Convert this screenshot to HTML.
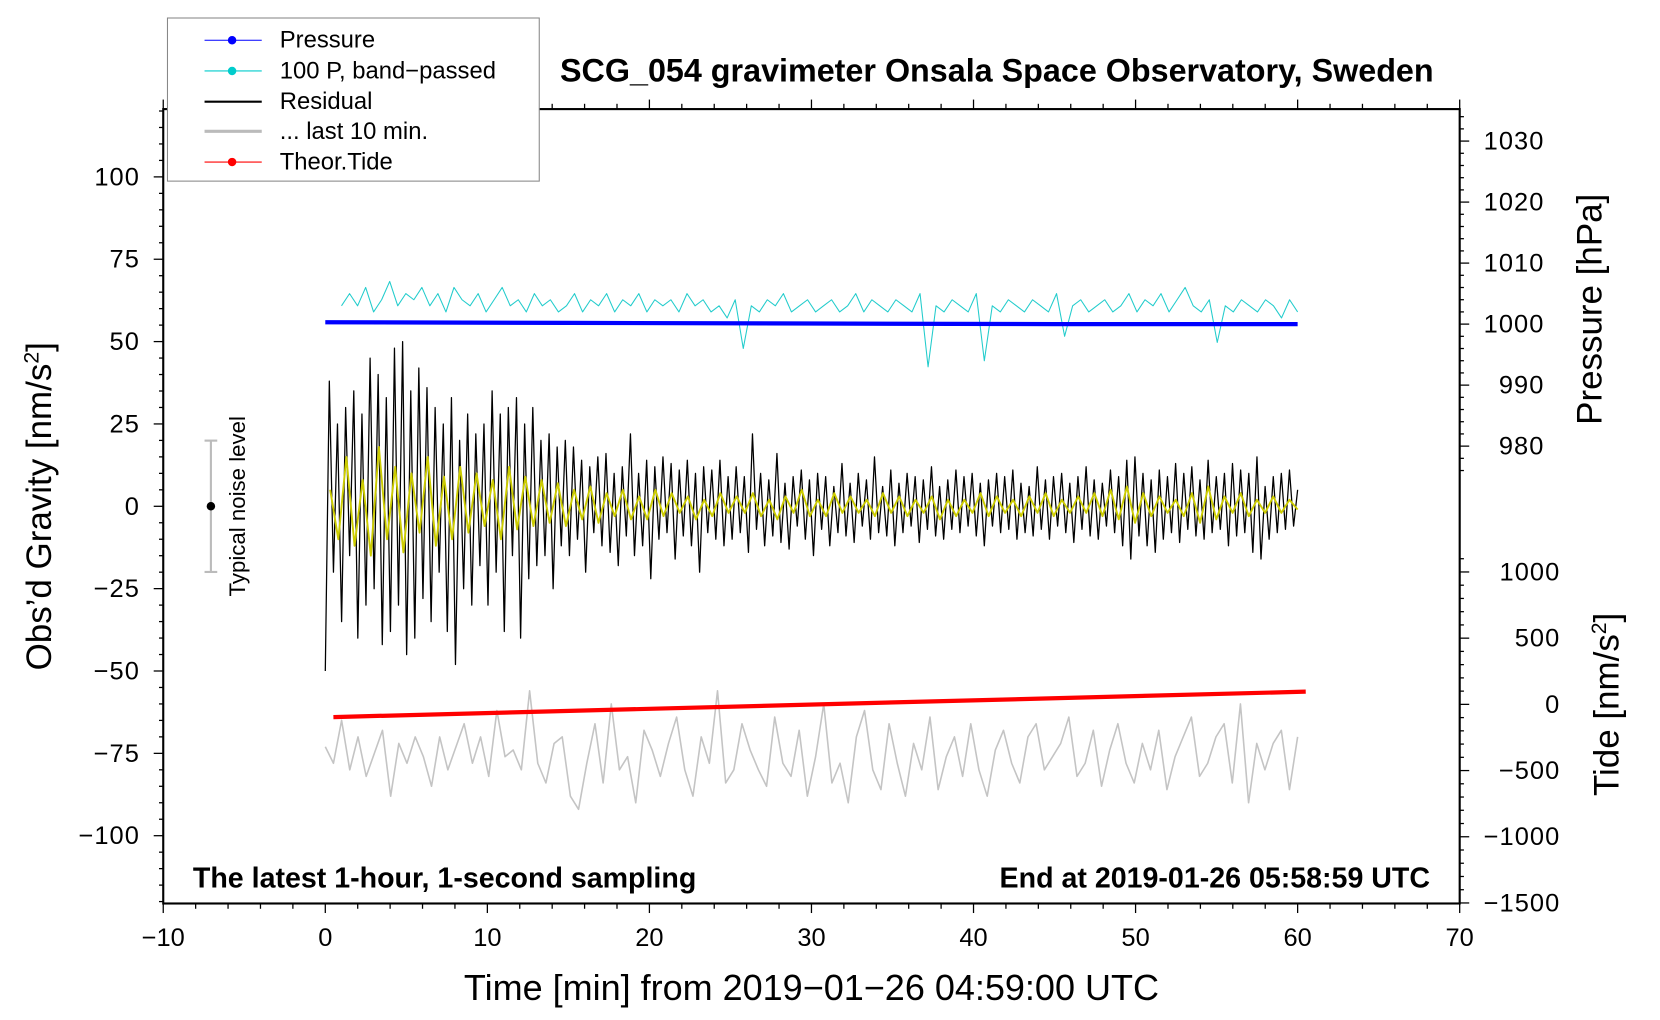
<!DOCTYPE html>
<html><head><meta charset="utf-8"><style>
html,body{margin:0;padding:0;background:#fff;}
svg{display:block;font-family:"Liberation Sans",sans-serif;}
</style></head><body>
<svg id="chart" width="1660" height="1020" viewBox="0 0 1567 963" xmlns="http://www.w3.org/2000/svg">
<rect x="0" y="0" width="1567" height="963" fill="#fff"/>
<g id="marks"></g>
<g id="axes"></g>
<text x="941" y="77" font-size="30.5" font-weight="bold" text-anchor="middle">SCG_054 gravimeter Onsala Space Observatory, Sweden</text>
<text x="182" y="838" font-size="27" font-weight="bold">The latest 1-hour, 1-second sampling</text>
<text x="1350" y="838" font-size="27" font-weight="bold" text-anchor="end">End at 2019-01-26 05:58:59 UTC</text>
<text x="766" y="944" font-size="34" text-anchor="middle">Time [min] from 2019−01−26 04:59:00 UTC</text>
<text transform="translate(48,478) rotate(-90)" font-size="33" text-anchor="middle">Obs’d Gravity [nm/s<tspan font-size="20" dy="-12">2</tspan><tspan dy="12">]</tspan></text>
<text transform="translate(1512,292) rotate(-90)" font-size="33" text-anchor="middle">Pressure [hPa]</text>
<text transform="translate(1528,665) rotate(-90)" font-size="33" text-anchor="middle">Tide [nm/s<tspan font-size="20" dy="-12">2</tspan><tspan dy="12">]</tspan></text>
<g>
<line x1="199" y1="416" x2="199" y2="540" stroke="#bbb" stroke-width="2"/>
<line x1="193" y1="416" x2="205" y2="416" stroke="#bbb" stroke-width="2"/>
<line x1="193" y1="540" x2="205" y2="540" stroke="#bbb" stroke-width="2"/>
<circle cx="199" cy="478" r="4" fill="#000"/>
<text transform="translate(231,478) rotate(-90)" font-size="21" text-anchor="middle">Typical noise level</text>
</g>
<g>
<rect x="158" y="17" width="351" height="154" fill="#fff" stroke="#888" stroke-width="1"/>
<g><line x1="193" y1="38" x2="247" y2="38" stroke="#00f" stroke-width="1"/><circle cx="219" cy="38" r="4" fill="#00f"/><text x="264" y="45" font-size="22.5">Pressure</text></g>
<g><line x1="193" y1="67" x2="247" y2="67" stroke="#0cc" stroke-width="1"/><circle cx="219" cy="67" r="4" fill="#0cc"/><text x="264" y="74" font-size="22.5">100 P, band−passed</text></g>
<g><line x1="193" y1="96" x2="247" y2="96" stroke="#000" stroke-width="2"/><text x="264" y="103" font-size="22.5">Residual</text></g>
<g><line x1="193" y1="124" x2="247" y2="124" stroke="#bbb" stroke-width="3"/><text x="264" y="131" font-size="22.5">... last 10 min.</text></g>
<g><line x1="193" y1="153" x2="247" y2="153" stroke="#f00" stroke-width="1"/><circle cx="219" cy="153" r="4" fill="#f00"/><text x="264" y="160" font-size="22.5">Theor.Tide</text></g>
</g>
</svg>
<script>
const residual=[-50,38,-20,25,-35,30,-15,35,-40,28,-30,45,-25,40,-42,33,-38,48,-30,50,-45,35,-40,42,-28,36,-35,30,-20,25,-38,33,-48,20,-25,28,-30,22,-18,25,
-30,35,-20,28,-38,30,-15,33,-40,25,-22,30,-18,20,-15,22,-25,18,-12,20,
-15,18,-10,14,-20,12,-8,15,-12,16,-14,10,-18,12,-9,22,-15,10,-12,14,-22,12,-10,15,-8,13,-16,11,-9,14,-12,10,-20,12,-8,11,-10,14,-12,9,
-10,12,-8,9,-14,22,-7,10,-12,8,-9,16,-11,7,-13,9,-6,11,-10,8,
-15,10,-7,9,-12,6,-8,13,-9,7,-11,10,-6,8,-10,15,-8,6,-9,11,
-12,7,-8,10,-6,9,-11,8,-7,12,-9,6,-10,8,-7,11,-8,9,-6,10,
-9,7,-12,8,-6,10,-8,9,-7,11,-10,7,-8,6,-9,12,-7,8,-10,9,
-6,10,-8,7,-11,9,-7,12,-9,8,-10,7,-6,11,-8,9,-12,14,-16,15,
-9,10,-12,8,-14,11,-10,9,-8,13,-11,10,-7,12,-9,8,-10,14,-8,9,
-7,10,-12,13,-9,11,-8,10,-14,15,-16,6,-10,9,-8,10,-7,11,-6,5];
const filtered=[5,-10,15,-12,8,-15,18,-10,12,-14,10,-8,15,-12,9,-10,12,-8,10,-6,
8,-10,12,-7,9,-6,8,-5,7,-6,5,-4,6,-5,4,-3,5,-4,3,-4,5,-3,4,-2,3,-4,2,-3,4,-2,
3,-2,4,-3,2,-4,3,-2,5,-3,2,-3,4,-2,3,-2,2,-3,4,-2,3,-3,2,-2,3,-4,2,-3,2,-2,4,-3,3,-2,2,-3,3,-2,4,-3,2,-2,3,-2,4,-3,5,-4,6,-5,4,-3,3,-2,2,-3,4,-5,6,-4,3,-2,4,-3,2,-2,3,-2,2,-1];
const bandPassed=[1003,1005,1003,1006,1002,1004,1007,1003,1005,1004,1006,1003,1005,1002,1006,1004,1003,1005,1002,1004,
1006,1003,1004,1002,1005,1003,1004,1002,1003,1005,1002,1004,1003,1005,1002,1004,1003,1005,1002,1004,
1003,1004,1002,1005,1003,1004,1002,1003,1001,1004,996,1003,1002,1004,1003,1005,1002,1003,1004,1002,
1003,1004,1002,1003,1005,1002,1004,1003,1002,1004,1003,1002,1005,993,1003,1002,1004,1003,1002,1005,
994,1003,1002,1004,1003,1002,1004,1003,1002,1005,998,1003,1004,1002,1003,1004,1002,1003,1005,1002,
1004,1003,1005,1002,1004,1006,1003,1002,1004,997,1003,1002,1004,1003,1002,1004,1003,1001,1004,1002];
const last10=[-73,-78,-65,-80,-70,-82,-75,-68,-88,-72,-78,-70,-76,-85,-70,-80,-73,-66,-78,-70,
-82,-62,-76,-74,-80,-56,-78,-84,-72,-70,-88,-92,-78,-66,-84,-60,-80,-76,-90,-68,
-74,-82,-72,-64,-80,-88,-70,-78,-56,-84,-80,-66,-74,-80,-85,-64,-78,-82,-68,-88,
-76,-60,-84,-78,-90,-70,-62,-80,-86,-66,-78,-88,-72,-80,-64,-86,-76,-70,-82,-66,
-80,-88,-74,-68,-78,-84,-70,-66,-80,-76,-72,-64,-82,-78,-68,-85,-74,-66,-78,-84,
-72,-80,-68,-86,-76,-70,-64,-82,-78,-70,-66,-84,-60,-90,-72,-80,-72,-68,-86,-70];
const pressureTimes=[0,15,30,45,60];
const pressureVals=[1000.3,1000.2,1000.1,1000.0,1000.0];
const tideTimes=[0.5,60.5];
const tideVals=[-96,96];
const xTicks=[-10,0,10,20,30,40,50,60,70];
const gTicks=[-100,-75,-50,-25,0,25,50,75,100];
const pTicks=[980,990,1000,1010,1020,1030];
const tTicks=[-1500,-1000,-500,0,500,1000];

const NS="http://www.w3.org/2000/svg";
const X=t=>307+(t)*15.3;
const G=v=>478-v*3.11;
const P=p=>306-(p-1000)*5.76;
const T=v=>665-v*0.125;
const marks=document.getElementById('marks'),axes=document.getElementById('axes');
function mk(tag,at,parent){const e=document.createElementNS(NS,tag);for(const k in at)e.setAttribute(k,at[k]);parent.appendChild(e);return e;}
function series(vals,t0,t1,yf,color,w,name){
  const n=vals.length;let d='';
  vals.forEach((v,i)=>{const t=t0+(t1-t0)*i/(n-1);d+=(i?'L':'M')+X(t).toFixed(1)+' '+yf(v).toFixed(1);});
  const p=mk('path',{d:d,fill:'none',stroke:color,'stroke-width':w,'stroke-linejoin':'round'},marks);
  
  
}
series(last10,0,60,G,'#c4c4c4',1.5,'last-10-min-line');
series(bandPassed,1,60,P,'#2cc','1','band-passed-pressure-line');
{let d='';pressureTimes.forEach((t,i)=>{d+=(i?'L':'M')+X(t)+' '+P(pressureVals[i]);});
const p=mk('path',{d:d,fill:'none',stroke:'#00f','stroke-width':4},marks);

}
series(residual,0,60,G,'#000',1.2,'residual-line');
series(filtered,0.3,60,G,'#cc0',1.8,'residual-filtered-line');
{let d='';tideTimes.forEach((t,i)=>{d+=(i?'L':'M')+X(t)+' '+T(tideVals[i]);});
const p=mk('path',{d:d,fill:'none',stroke:'#f00','stroke-width':4},marks);

}
const fr=mk('rect',{x:154,y:103,width:1224,height:750,fill:'none',stroke:'#000','stroke-width':2},axes);


for(let t=-10;t<=70;t+=2){const maj=t%10===0;
 mk('line',{x1:X(t),y1:853,x2:X(t),y2:853+(maj?9:5),stroke:'#000','stroke-width':1.2},axes);
 mk('line',{x1:X(t),y1:103,x2:X(t),y2:103-(maj?9:5),stroke:'#000','stroke-width':1.2},axes);}
xTicks.forEach(t=>{const e=mk('text',{x:X(t),y:893,'font-size':24,'text-anchor':'middle'},axes);e.textContent=String(t).replace('-','−');
 
 });
for(let v=-120;v<=120;v+=5){const maj=v%25===0;mk('line',{x1:154,y1:G(v),x2:154-(maj?9:4),y2:G(v),stroke:'#000','stroke-width':1.2},axes);}
gTicks.forEach(v=>{const e=mk('text',{x:132,y:G(v)+8,'font-size':24,'letter-spacing':1,'text-anchor':'end'},axes);e.textContent=String(v).replace('-','−');
 
 });
for(let p=976;p<=1034;p+=2){const maj=p%10===0;mk('line',{x1:1378,y1:P(p),x2:1378+(maj?9:4),y2:P(p),stroke:'#000','stroke-width':1.2},axes);}
pTicks.forEach(v=>{const e=mk('text',{x:1458,y:P(v)+8,'font-size':24,'letter-spacing':1,'text-anchor':'end'},axes);e.textContent=v;
 
 });
for(let v=-1500;v<=1100;v+=100){const maj=v%500===0;mk('line',{x1:1378,y1:T(v),x2:1378+(maj?9:4),y2:T(v),stroke:'#000','stroke-width':1.2},axes);}
tTicks.forEach(v=>{const e=mk('text',{x:1473,y:T(v)+8,'font-size':24,'letter-spacing':1,'text-anchor':'end'},axes);e.textContent=String(v).replace('-','−');
 
 });
</script>
</body></html>
